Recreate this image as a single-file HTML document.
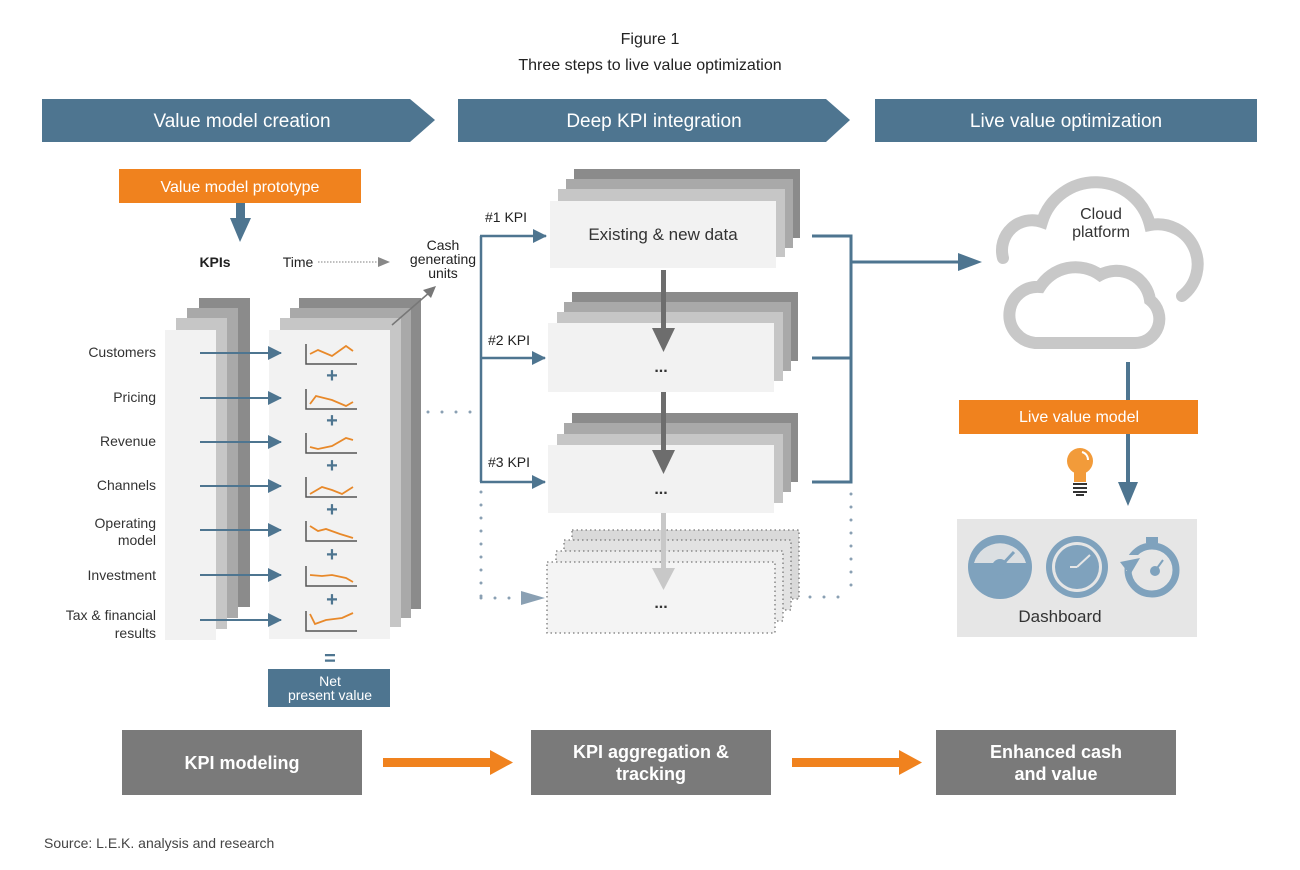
<!DOCTYPE html>
<html><head><meta charset="utf-8"><style>
html,body{margin:0;padding:0;background:#fff;}
svg{display:block;font-family:"Liberation Sans",sans-serif;}
</style></head><body>
<svg width="1300" height="870" viewBox="0 0 1300 870" xmlns="http://www.w3.org/2000/svg">
<defs>
<marker id="ab" markerWidth="14" markerHeight="14" refX="13" refY="7" orient="auto" markerUnits="userSpaceOnUse" viewBox="0 0 14 14"><path d="M0,0 L14,7 L0,14 Z" fill="#4e7590"/></marker>
</defs>
<rect width="1300" height="870" fill="#fff"/>
<text x="650" y="44" text-anchor="middle" font-size="16" fill="#222">Figure 1</text>
<text x="650" y="70" text-anchor="middle" font-size="16" fill="#222">Three steps to live value optimization</text>

<polygon points="42,99 410,99 435,120 410,142 42,142" fill="#4e7590"/>
<polygon points="458,99 826,99 850,120 826,142 458,142" fill="#4e7590"/>
<rect x="875" y="99" width="382" height="43" fill="#4e7590"/>
<g fill="#fff" font-size="19" text-anchor="middle">
<text x="242" y="127">Value model creation</text>
<text x="654" y="127">Deep KPI integration</text>
<text x="1066" y="127">Live value optimization</text>
</g>

<rect x="119" y="169" width="242" height="34" fill="#f0821e"/>
<text x="240" y="192" text-anchor="middle" fill="#fff" font-size="16">Value model prototype</text>
<rect x="236" y="203" width="9" height="16" fill="#4e7590"/>
<polygon points="230,218 251,218 240,242" fill="#4e7590"/>

<text x="215" y="267" text-anchor="middle" font-size="14" font-weight="bold" fill="#222">KPIs</text>
<text x="298" y="267" text-anchor="middle" font-size="14" fill="#222">Time</text>
<line x1="318" y1="262" x2="380" y2="262" stroke="#999" stroke-width="1.2" stroke-dasharray="1.5,1.5"/>
<polygon points="378,257 390,262 378,267" fill="#888"/>
<g font-size="14" fill="#222" text-anchor="middle"><text x="443" y="250">Cash</text><text x="443" y="264">generating</text><text x="443" y="278">units</text></g>

<rect x="199" y="298" width="51" height="309" fill="#8b8b8b"/>
<rect x="187" y="308" width="51" height="310" fill="#a9a9a9"/>
<rect x="176" y="318" width="51" height="311" fill="#c6c6c6"/>
<rect x="165" y="330" width="51" height="310" fill="#f2f2f2"/>
<rect x="299" y="298" width="122" height="311" fill="#8b8b8b"/>
<rect x="290" y="308" width="121" height="310" fill="#a9a9a9"/>
<rect x="280" y="318" width="121" height="309" fill="#c6c6c6"/>
<rect x="269" y="330" width="121" height="309" fill="#f2f2f2"/>
<line x1="392" y1="325" x2="430" y2="292" stroke="#777" stroke-width="1.5"/>
<polygon points="436,286 423,290 431,298" fill="#777"/>

<g font-size="14" fill="#333" text-anchor="end">
<text x="156" y="357">Customers</text>
<text x="156" y="402">Pricing</text>
<text x="156" y="446">Revenue</text>
<text x="156" y="490">Channels</text>
<text x="156" y="528">Operating</text><text x="156" y="545">model</text>
<text x="156" y="580">Investment</text>
<text x="156" y="620">Tax &amp; financial</text><text x="156" y="638">results</text>
</g>
<g stroke="#4e7590" stroke-width="2" marker-end="url(#ab)">
<line x1="200" y1="353" x2="281" y2="353"/>
<line x1="200" y1="398" x2="281" y2="398"/>
<line x1="200" y1="442" x2="281" y2="442"/>
<line x1="200" y1="486" x2="281" y2="486"/>
<line x1="200" y1="530" x2="281" y2="530"/>
<line x1="200" y1="575" x2="281" y2="575"/>
<line x1="200" y1="620" x2="281" y2="620"/>
</g>
<g fill="none">
<g stroke="#555" stroke-width="1.5">
<path d="M306,344 V364 H357"/><path d="M306,389 V409 H357"/><path d="M306,433 V453 H357"/><path d="M306,477 V497 H357"/><path d="M306,521 V541 H357"/><path d="M306,566 V586 H357"/><path d="M306,611 V631 H357"/>
</g>
<g stroke="#e8892a" stroke-width="1.8">
<path d="M310,354 L318,350 L332,356 L346,346 L353,351"/>
<path d="M310,404 L316,396 L332,400 L346,406 L353,402"/>
<path d="M310,447 L318,449 L332,446 L346,438 L353,440"/>
<path d="M310,494 L322,487 L332,490 L342,494 L353,487"/>
<path d="M310,526 L318,531 L326,529 L340,534 L353,538"/>
<path d="M310,575 L322,576 L332,575 L346,578 L353,582"/>
<path d="M310,614 L315,624 L326,620 L342,618 L353,613"/>
</g>
</g>
<g fill="#4e7590" font-size="20" font-weight="bold" text-anchor="middle">
<text x="332" y="382">+</text><text x="332" y="427">+</text><text x="332" y="472">+</text><text x="332" y="516">+</text><text x="332" y="561">+</text><text x="332" y="606">+</text>
</g>
<text x="330" y="665" text-anchor="middle" fill="#4e7590" font-size="20" font-weight="bold">=</text>
<rect x="268" y="669" width="122" height="38" fill="#4e7590"/>
<text x="330" y="686" text-anchor="middle" fill="#fff" font-size="14">Net</text>
<text x="330" y="700" text-anchor="middle" fill="#fff" font-size="14">present value</text>

<line x1="428" y1="412" x2="478" y2="412" stroke="#8aa0b3" stroke-width="3" stroke-linecap="round" stroke-dasharray="0,14"/>
<line x1="481" y1="492" x2="481" y2="598" stroke="#8aa0b3" stroke-width="3" stroke-linecap="round" stroke-dasharray="0,13"/>
<line x1="481" y1="598" x2="520" y2="598" stroke="#8aa0b3" stroke-width="3" stroke-linecap="round" stroke-dasharray="0,14"/>
<polygon points="521,591 545,598 521,605" fill="#8aa0b3"/>

<path d="M481,482 V236" stroke="#4e7590" stroke-width="2.5" fill="none"/>
<g stroke="#4e7590" stroke-width="2.5" marker-end="url(#ab)">
<line x1="480" y1="236" x2="546" y2="236"/>
<line x1="480" y1="358" x2="545" y2="358"/>
<line x1="480" y1="482" x2="545" y2="482"/>
</g>
<g font-size="14" fill="#222"><text x="485" y="222">#1 KPI</text><text x="488" y="345">#2 KPI</text><text x="488" y="467">#3 KPI</text></g>

<rect x="574" y="169" width="226" height="69" fill="#8b8b8b"/>
<rect x="566" y="179" width="227" height="69" fill="#a9a9a9"/>
<rect x="558" y="189" width="227" height="68" fill="#c6c6c6"/>
<rect x="550" y="201" width="226" height="67" fill="#f2f2f2"/>
<text x="663" y="240" text-anchor="middle" font-size="17" fill="#333">Existing &amp; new data</text>
<rect x="572" y="292" width="226" height="69" fill="#8b8b8b"/>
<rect x="564" y="302" width="227" height="69" fill="#a9a9a9"/>
<rect x="557" y="312" width="226" height="69" fill="#c6c6c6"/>
<rect x="548" y="323" width="226" height="69" fill="#f2f2f2"/>
<rect x="572" y="413" width="226" height="69" fill="#8b8b8b"/>
<rect x="564" y="423" width="227" height="69" fill="#a9a9a9"/>
<rect x="557" y="434" width="226" height="69" fill="#c6c6c6"/>
<rect x="548" y="445" width="226" height="68" fill="#f2f2f2"/>
<g stroke="#777" stroke-width="1.3" stroke-dasharray="1.5,3">
<rect x="572" y="530" width="227" height="69" fill="#d9d9d9"/>
<rect x="564" y="540" width="227" height="70" fill="#e2e2e2"/>
<rect x="556" y="551" width="227" height="70" fill="#ececec"/>
<rect x="547" y="562" width="228" height="71" fill="#f4f4f4"/>
</g>
<rect x="661" y="270" width="5" height="60" fill="#6d6d6d"/><polygon points="652,328 675,328 663.5,352" fill="#6d6d6d"/>
<rect x="661" y="392" width="5" height="60" fill="#6d6d6d"/><polygon points="652,450 675,450 663.5,474" fill="#6d6d6d"/>
<rect x="661" y="513" width="5" height="60" fill="#c8c8c8"/><polygon points="652,568 675,568 663.5,590" fill="#c8c8c8"/>
<g font-size="16" font-weight="bold" fill="#333" text-anchor="middle"><text x="661" y="372">...</text><text x="661" y="494">...</text><text x="661" y="608">...</text></g>

<path d="M812,236 H851 V482 H812 M812,358 H851 M851,262 H960" stroke="#4e7590" stroke-width="3" fill="none"/>
<polygon points="958,253 982,262 958,271" fill="#4e7590"/>
<line x1="851" y1="494" x2="851" y2="597" stroke="#8aa0b3" stroke-width="3" stroke-linecap="round" stroke-dasharray="0,13"/>
<line x1="810" y1="597" x2="851" y2="597" stroke="#8aa0b3" stroke-width="3" stroke-linecap="round" stroke-dasharray="0,14"/>

<g fill="none" stroke="#c8c8c8" stroke-width="12" stroke-linecap="round">
<path d="M1003,258 A30,30 0 0 1 1042,222 A56,56 0 0 1 1150,225 A40,40 0 0 1 1182,296"/>
<path d="M1035,343 H1135 A24,24 0 0 0 1150,300 A34,34 0 0 0 1100,275 A42,42 0 0 0 1040,287 A28,28 0 0 0 1035,343 Z"/>
</g>
<g font-size="16" fill="#333" text-anchor="middle"><text x="1101" y="219">Cloud</text><text x="1101" y="237">platform</text></g>

<rect x="1126" y="362" width="4" height="120" fill="#4e7590"/>
<rect x="959" y="400" width="239" height="34" fill="#f0821e"/>
<text x="1079" y="422" text-anchor="middle" fill="#fff" font-size="16">Live value model</text>
<rect x="1126" y="434" width="4" height="50" fill="#4e7590"/>
<polygon points="1118,482 1138,482 1128,506" fill="#4e7590"/>
<circle cx="1080" cy="461" r="13" fill="#f29b3a"/>
<rect x="1074" y="466" width="12" height="16" fill="#f29b3a"/>
<path d="M1082,452 A8,8 0 0 1 1088,460" stroke="#fff" stroke-width="2" fill="none"/>
<g fill="#333"><rect x="1073" y="483" width="14" height="2"/><rect x="1073" y="487" width="14" height="2"/><rect x="1073" y="491" width="14" height="2"/><rect x="1076" y="494" width="8" height="2"/></g>

<rect x="957" y="519" width="240" height="118" fill="#e6e6e6"/>
<circle cx="1000" cy="567" r="32" fill="#7fa2bd"/>
<path d="M974,563 A27,27 0 0 1 1026,563 Z" fill="#e6e6e6" opacity="0.9"/>
<circle cx="1000" cy="567" r="8" fill="#7fa2bd"/>
<line x1="1000" y1="567" x2="1014" y2="552" stroke="#7fa2bd" stroke-width="3"/>
<circle cx="1077" cy="567" r="31" fill="#7fa2bd"/>
<circle cx="1077" cy="567" r="25" fill="#e6e6e6"/>
<circle cx="1077" cy="567" r="22" fill="#7fa2bd"/>
<line x1="1077" y1="567" x2="1090" y2="555" stroke="#e6e6e6" stroke-width="2"/>
<line x1="1077" y1="567" x2="1070" y2="567" stroke="#e6e6e6" stroke-width="2"/>
<circle cx="1152" cy="570" r="24" fill="none" stroke="#7fa2bd" stroke-width="7"/>
<rect x="1146" y="537" width="12" height="6" fill="#7fa2bd"/>
<rect x="1126" y="555" width="14" height="16" fill="#e6e6e6"/>
<polygon points="1120,562 1140,558 1130,575" fill="#7fa2bd"/>
<circle cx="1155" cy="571" r="5" fill="#7fa2bd"/>
<line x1="1155" y1="571" x2="1163" y2="560" stroke="#7fa2bd" stroke-width="2"/>
<text x="1060" y="622" text-anchor="middle" font-size="17" fill="#333">Dashboard</text>

<rect x="122" y="730" width="240" height="65" fill="#7a7a7a"/>
<rect x="531" y="730" width="240" height="65" fill="#7a7a7a"/>
<rect x="936" y="730" width="240" height="65" fill="#7a7a7a"/>
<g fill="#fff" font-size="18" font-weight="bold" text-anchor="middle">
<text x="242" y="769">KPI modeling</text>
<text x="651" y="758">KPI aggregation &amp;</text><text x="651" y="780">tracking</text>
<text x="1056" y="758">Enhanced cash</text><text x="1056" y="780">and value</text>
</g>
<rect x="383" y="758" width="110" height="9" fill="#f0821e"/><polygon points="490,750 513,762.5 490,775" fill="#f0821e"/>
<rect x="792" y="758" width="110" height="9" fill="#f0821e"/><polygon points="899,750 922,762.5 899,775" fill="#f0821e"/>

<text x="44" y="848" font-size="14" fill="#444">Source: L.E.K. analysis and research</text>
</svg>
</body></html>
